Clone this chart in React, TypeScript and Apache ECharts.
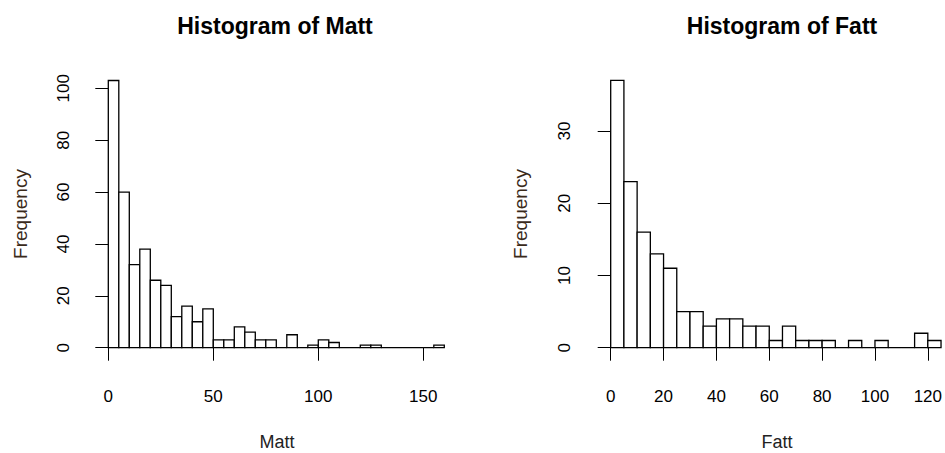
import React, { useEffect, useRef } from "react";
import * as echarts from "echarts";

const mattBreaks = [0, 5, 10, 15, 20, 25, 30, 35, 40, 45, 50, 55, 60, 65, 70, 75, 80, 85, 90, 95, 100, 105, 110, 115, 120, 125, 130, 135, 140, 145, 150, 155, 160];
const mattCounts = [103, 60, 32, 38, 26, 24, 12, 16, 10, 15, 3, 3, 8, 6, 3, 3, 0, 5, 0, 1, 3, 2, 0, 0, 1, 1, 0, 0, 0, 0, 0, 1];
const fattBreaks = [0, 5, 10, 15, 20, 25, 30, 35, 40, 45, 50, 55, 60, 65, 70, 75, 80, 85, 90, 95, 100, 105, 110, 115, 120, 125];
const fattCounts = [37, 23, 16, 13, 11, 5, 5, 3, 4, 4, 3, 3, 1, 3, 1, 1, 1, 0, 1, 0, 1, 0, 0, 2, 1];

const titles = ["Histogram of Matt", "Histogram of Fatt"];
const xNames = ["Matt", "Fatt"];
const yName = "Frequency";

const FONT = "'Liberation Sans', Arial, sans-serif";

function toBins(breaks: number[], counts: number[]) {
  return counts.map((c, i) => [breaks[i], breaks[i + 1], c]);
}

function renderBar(params: any, api: any) {
  const x0 = api.value(0);
  const x1 = api.value(1);
  const c = api.value(2);
  const p0 = api.coord([x0, c]);
  const p1 = api.coord([x1, 0]);
  return {
    type: "rect",
    shape: { x: p0[0], y: p0[1], width: p1[0] - p0[0], height: p1[1] - p0[1] },
    style: { fill: "#ffffff", stroke: "#000000", lineWidth: 1.3 },
  };
}

export default function App() {
  const ref = useRef<HTMLDivElement>(null);
  useEffect(() => {
    if (!ref.current) return;
    const chart = echarts.init(ref.current, null, { renderer: "svg" });
    const axisLine = { show: true, lineStyle: { color: "#000", width: 1 } };
    const axisTick = { show: true, length: 13, lineStyle: { color: "#000", width: 1 } };
    const xLabel = { color: "#000", fontSize: 17, fontFamily: FONT, margin: 30, showMinLabel: true, showMaxLabel: true, hideOverlap: false };
    const yLabel = { color: "#000", fontSize: 17, fontFamily: FONT, margin: 24, rotate: 90, showMinLabel: true, showMaxLabel: true, hideOverlap: false };
    chart.setOption({
      animation: false,
      backgroundColor: "#ffffff",
      grid: [
        { left: 108.3, top: 88.3, width: 315, height: 259.4 },
        { left: 610.7, top: 131, width: 319, height: 216.7 },
      ],
      xAxis: [
        { type: "value", gridIndex: 0, min: 0, max: 150, interval: 50, position: "bottom", offset: 10.6, axisLine, axisTick, axisLabel: xLabel, splitLine: { show: false } },
        { type: "value", gridIndex: 1, min: 0, max: 120, interval: 20, position: "bottom", offset: 10.6, axisLine, axisTick, axisLabel: xLabel, splitLine: { show: false } },
      ],
      yAxis: [
        { type: "value", gridIndex: 0, min: 0, max: 100, interval: 20, position: "left", offset: 12.6, axisLine, axisTick, axisLabel: yLabel, splitLine: { show: false } },
        { type: "value", gridIndex: 1, min: 0, max: 30, interval: 10, position: "left", offset: 14, axisLine, axisTick, axisLabel: yLabel, splitLine: { show: false } },
      ],
      series: [
        { type: "custom", xAxisIndex: 0, yAxisIndex: 0, clip: false, renderItem: renderBar, encode: { x: [0, 1], y: 2 }, data: toBins(mattBreaks, mattCounts) },
        { type: "custom", xAxisIndex: 1, yAxisIndex: 1, clip: false, renderItem: renderBar, encode: { x: [0, 1], y: 2 }, data: toBins(fattBreaks, fattCounts) },
      ],
      graphic: [
        { type: "text", x: 275, y: 26, style: { text: titles[0], font: `bold 23px ${FONT}`, fill: "#000", align: "center", verticalAlign: "middle" } },
        { type: "text", x: 782, y: 26, style: { text: titles[1], font: `bold 23px ${FONT}`, fill: "#000", align: "center", verticalAlign: "middle" } },
        { type: "text", x: 277, y: 442, style: { text: xNames[0], font: `18px ${FONT}`, fill: "#222", align: "center", verticalAlign: "middle" } },
        { type: "text", x: 777, y: 442, style: { text: xNames[1], font: `18px ${FONT}`, fill: "#222", align: "center", verticalAlign: "middle" } },
        { type: "text", x: 20, y: 214, rotation: Math.PI / 2, style: { text: yName, font: `19px ${FONT}`, fill: "#3a2a1a", align: "center", verticalAlign: "middle" } },
        { type: "text", x: 520, y: 214, rotation: Math.PI / 2, style: { text: yName, font: `19px ${FONT}`, fill: "#3a2a1a", align: "center", verticalAlign: "middle" } },
      ],
    });
    return () => chart.dispose();
  }, []);
  return <div ref={ref} style={{ position: "fixed", left: 0, top: 0, width: 945, height: 453, background: "#fff" }} />;
}
